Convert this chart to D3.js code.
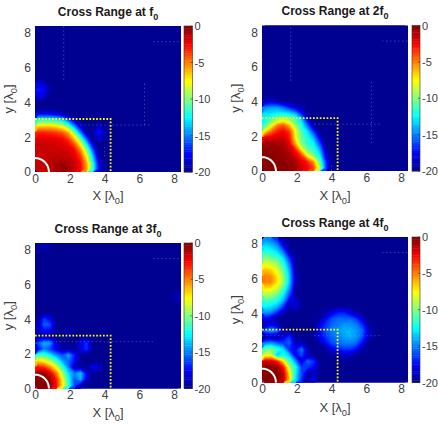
<!DOCTYPE html>
<html><head><meta charset="utf-8">
<script src="https://cdn.jsdelivr.net/npm/d3@7"></script>
<style>html,body{margin:0;padding:0;background:#fff}svg{display:block}text{font-family:"Liberation Sans",Arial,sans-serif}</style>
</head><body>
<svg id="c" width="438" height="426"></svg>
<script>
// Heat values in dB on a 0.35 lambda grid. Each row is one y (bottom first), from x = 0 rightwards.
// Cells left out of a row, and rows left out altogether, sit at the floor of that panel.
const titleHarmonics = ["f", "2f", "3f", "4f"];
const floors = [-20, -20, -19.7, -19.7];
const xTicks = [0, 2, 4, 6, 8];
const dbTicks = [0, -5, -10, -15, -20];
const boxCorner = [4.35, 3.05];
const arcRadius = 0.8;

const f1Rows = [
 [-1.3,-1.3,-1,-0.8,-0.3,-0.6,-1.3,-2.5,-5.5,-11.5,-17.5,-20],
 [-1.3,-1.3,-1,-0.9,-0.5,-0.9,-1.5,-2.7,-6,-12,-18,-20],
 [-1.3,-1.3,-1.3,-1.2,-1.2,-1.4,-1.9,-3.5,-7.5,-13.5,-19.2,-20],
 [-1.4,-1.4,-1.4,-1.4,-1.5,-1.7,-2.4,-5,-9.5,-15.5,-20],
 [-1.5,-1.5,-1.5,-1.6,-1.8,-2.4,-4,-7.5,-12.5,-18,-20],
 [-1.9,-1.9,-2,-2.2,-2.5,-3.8,-6.5,-11,-16,-19.8,-18.5,-19.5],
 [-3,-3.1,-3.3,-3.6,-4.2,-6,-10,-15,-19.5,-19.5,-17,-19],
 [-6.5,-6.5,-6.5,-7,-8,-10.5,-14.5,-18.5,-20,-20,-18.5,-20],
 [-11.5,-11.5,-11.5,-12,-13,-15.5,-18.5,-20],
 [-17.5,-17.5,-17.5,-18,-18.8,-20],
 [],
 [-19.5,-20],
 [-18,-18.5,-19.8],
 [-17,-17.5,-19.5],
 [-18,-18.5,-19.8],
 [-19.8]
];
const f2Rows = [
 [-0.3,-0.3,-0.3,-0.3,-0.3,-0.5,-1.5,-2.5,-3.8,-9,-16,-20],
 [-0.3,-0.3,-0.3,-0.3,-0.4,-0.8,-2,-3,-5.5,-10.5,-16.5,-20],
 [-0.3,-0.3,-0.3,-0.4,-0.8,-1.8,-3.5,-7.5,-10,-12.5,-18,-20],
 [-0.3,-0.3,-0.4,-0.6,-1.2,-3,-7,-10.5,-11.5,-14,-19,-20],
 [-0.6,-0.6,-0.7,-0.9,-2,-6,-10,-11.5,-12.5,-16,-20],
 [-2,-1.8,-1.6,-1.5,-2.8,-7.5,-10.5,-12,-14,-18,-20],
 [-7,-4.5,-3,-2.3,-3.5,-7.5,-11,-13,-16.5,-20],
 [-11,-8,-5,-4,-6,-9.5,-12,-15.5,-19.5,-20],
 [-12.5,-11,-9.5,-8.5,-9.5,-11,-13.5,-18,-20],
 [-13,-13,-12.5,-12.5,-13,-14,-17,-20],
 [-15,-14.5,-14.5,-15.5,-17,-18.5,-19,-20],
 [-19,-18.5,-19,-20]
];
const f3Rows = [
 [0,0,-0.4,-2.5,-7,-11.5,-16,-19,-20],
 [0,0,-0.6,-3,-7.5,-12,-16,-14,-18.5,-20],
 [-0.2,-0.4,-1.8,-4.8,-9,-13,-15,-13.5,-18,-20],
 [-2.8,-3.2,-5.2,-8,-11.5,-15,-19,-19.5,-20,-17.5,-18.5],
 [-6.5,-7.5,-9,-11,-14,-15.5,-17.5,-20],
 [-11,-11,-12.5,-14.5,-16,-14,-17,-20],
 [-18,-15,-16.5,-18,-19.5,-19.5,-20,-18,-16.5,-20],
 [-16,-14,-14.5,-18.5,-20,-20,-20,-18,-16.5,-20],
 [-19.5,-19,-19.5,-20],
 [-19,-17.5,-18,-20,-20,-18.5,-20],
 [-19,-15.5,-16,-20],
 [-20,-16.5,-18,-20],
 [],
 [],
 [-20,-20,-20,-20,-20,-20,-20,-20,-20,-20,-20,-20,-20,-20,-20,-20,-20,-20,-20,-20,-20,-20,-20,-19],
 [-20,-20,-20,-20,-20,-20,-20,-20,-20,-20,-20,-20,-20,-20,-20,-20,-20,-20,-20,-20,-20,-20,-20,-19],
 [],[],[],[],[],[],[],
 [-19.4,-19,-19.4,-20]
];
const f4Rows = [
 [0,0,0,-1.2,-6.5,-13,-16.5,-19.5,-17.5,-20],
 [0,0,-0.1,-1.5,-7,-12.5,-16,-19.5,-19,-20],
 [0,-0.1,-0.4,-2.8,-9,-12,-16.5,-16.5,-17.5,-20],
 [-1.5,-1.8,-3,-7,-11,-14.5,-18.5,-15.5,-16.5,-20],
 [-8,-8,-13.5,-12,-13.5,-18,-16,-19,-20,-20,-20,-20,-19.5,-18.8,-19,-20],
 [-10.5,-10,-11.5,-13,-17,-17.5,-15,-19,-20,-20,-19.5,-18,-17,-16.5,-16.5,-17.5,-19.5,-20],
 [-15,-14.5,-15.5,-16.5,-15.5,-19,-19,-20,-20,-19.5,-17.5,-16,-15.5,-15,-15,-15.5,-17.5,-19.8],
 [-19.5,-19.5,-19.5,-18,-16.5,-20,-20,-20,-19.8,-18,-16.5,-15.5,-15,-14.5,-14,-14.5,-16,-19],
 [-15.5,-14.5,-15.5,-19.5,-20,-20,-20,-20,-20,-17.5,-16,-15,-14.5,-14,-14,-14.5,-15.5,-18.5],
 [-19,-17.5,-18.5,-20,-20,-20,-20,-20,-20,-18,-16.5,-15.5,-15,-14.5,-14.5,-15,-16.5,-19.5],
 [-17.5,-18.5,-20,-20,-20,-20,-20,-20,-20,-19.5,-17.5,-16,-15.5,-15.5,-15.5,-16.5,-18.5,-20],
 [-14.5,-15,-17,-19,-20,-20,-20,-20,-20,-20,-19.5,-18,-17,-17,-18,-19.5,-20],
 [-12.5,-13,-14,-16.5,-19.5,-18,-20],
 [-11,-11.3,-12,-14,-18,-18.5,-20],
 [-9,-9.3,-10.3,-12.5,-16,-20],
 [-7,-7.3,-8.5,-11,-14.5,-19.5],
 [-5,-5.3,-7,-9.5,-13.5,-19],
 [-5,-5.3,-7,-9.5,-13.5,-19],
 [-6.2,-6.6,-8,-10.5,-14,-19.5],
 [-8,-8.3,-9.5,-11.5,-15,-20],
 [-9.8,-10.3,-11,-13,-16.5,-20],
 [-11.5,-12,-13,-15,-19,-20],
 [-13,-13.5,-14.5,-17.5,-20],
 [-14.5,-15,-16.5,-19.5]
];
// Faint dotted traces: [x0, y0, x1, y1] in lambda
const f1Traces = [[1.65,5.3,1.65,8.4],[2.6,2.7,6.7,2.7],[6.3,2.7,6.3,5.2],[6.8,7.5,8.4,7.5],[4,0.9,4,1.6]];
const f2Traces = [[1.65,5.2,1.65,8.4],[3,2.7,6.9,2.7],[6.3,1.6,6.3,5.2],[6.9,7.5,8.4,7.5],[4,0,4,0.4]];
const f3Traces = [[0.5,2.7,6.9,2.7],[6.8,7.5,8.3,7.5]];
const f4Traces = [[0,2.7,1.2,2.7],[3,2.7,6.9,2.7],[6.9,7.5,8.4,7.5]];

const allRows = [f1Rows, f2Rows, f3Rows, f4Rows];
const allTraces = [f1Traces, f2Traces, f3Traces, f4Traces];
// Layout: plot box, title baseline, x label baseline
const panels = [
 {l:35, r:181, t:26, b:172, cl:184, cr:192.5, title:16, xlab:200},
 {l:262, r:408, t:25.5, b:171, cl:412, cr:420, title:15, xlab:200},
 {l:35, r:181, t:243, b:388.5, cl:184, cr:192.5, title:233, xlab:417},
 {l:262, r:408, t:237, b:382.5, cl:412, cr:420, title:227, xlab:412}
];

const GRID = 24, CELL = 0.35, AXMAX = 8.4, LEVELS = 64;
const textCol = "#404040";
const jet = d3.scaleLinear()
  .domain([0, 0.125, 0.375, 0.625, 0.875, 1])
  .range(["#00008a", "#0000ff", "#00ffff", "#ffff00", "#ff0000", "#800000"])
  .clamp(true);
const svg = d3.select("#c");

function label(g, x, y, base, rotate, size) {
  const t = g.append("text").attr("fill", textCol).attr("font-size", size).attr("text-anchor", "middle");
  if (rotate) t.attr("transform", `translate(${x},${y}) rotate(-90)`);
  else t.attr("x", x).attr("y", y);
  t.append("tspan").text(base + " [\u03bb");
  t.append("tspan").attr("font-size", size * 0.72).attr("dy", 4).text("0");
  t.append("tspan").attr("dy", -4).text("]");
}

panels.forEach((p, idx) => {
  const g = svg.append("g");
  const x = d3.scaleLinear().domain([0, AXMAX]).range([p.l, p.r]);
  const y = d3.scaleLinear().domain([0, AXMAX]).range([p.b, p.t]);
  const floor = floors[idx];
  const values = [];
  for (let j = 0; j < GRID; j++) {
    const row = allRows[idx][j] || [];
    for (let i = 0; i < GRID; i++) values.push(Math.max(row[i] === undefined ? floor : row[i], floor));
  }
  const levelOf = d3.scaleLinear().domain([0, LEVELS]).range([-20, 0]);
  const thresholds = d3.range(LEVELS).map(k => levelOf(k));
  const contours = d3.contours().size([GRID, GRID]).thresholds(thresholds)(values);
  const path = d3.geoPath(d3.geoTransform({
    point(a, b) { this.stream.point(x(a * CELL), y(b * CELL)); }
  }));
  g.append("rect").attr("x", p.l).attr("y", p.t).attr("width", p.r - p.l).attr("height", p.b - p.t)
    .attr("fill", jet(Math.max(0, (floor + 20) / 20)));
  g.selectAll("path.c").data(contours).join("path").attr("class", "c")
    .attr("d", path)
    .attr("fill", (d, k) => jet((k + 0.5) / LEVELS));

  // faint traces
  g.selectAll("line.tr").data(allTraces[idx]).join("line").attr("class", "tr")
    .attr("x1", d => x(d[0])).attr("y1", d => y(d[1]))
    .attr("x2", d => x(d[2])).attr("y2", d => y(d[3]))
    .attr("stroke", "#8fa8e8").attr("stroke-opacity", 0.45).attr("stroke-width", 0.8)
    .attr("stroke-dasharray", "1.5 2.5");

  // yellow region box
  g.append("path")
    .attr("d", d3.line().x(d => x(d[0])).y(d => y(d[1]))([[0, boxCorner[1]], boxCorner, [boxCorner[0], 0]]))
    .attr("fill", "none").attr("stroke", "#ffff00").attr("stroke-width", 1.8).attr("stroke-dasharray", "1.7 1.7");

  // white arc
  const arcPts = d3.range(0, 91, 5).map(a => [arcRadius * Math.cos(a * Math.PI / 180), arcRadius * Math.sin(a * Math.PI / 180)]);
  g.append("path").attr("d", d3.line().x(d => x(d[0])).y(d => y(d[1]))(arcPts))
    .attr("fill", "none").attr("stroke", "#fff").attr("stroke-width", 2);

  // axes
  const ax = g.append("g").attr("transform", `translate(0,${p.b})`).call(d3.axisBottom(x).tickValues(xTicks).tickSize(0).tickPadding(2));
  const ay = g.append("g").attr("transform", `translate(${p.l},0)`).call(d3.axisLeft(y).tickValues(xTicks).tickSize(0).tickPadding(4));
  [ax, ay].forEach(a => {
    a.select(".domain").remove();
    a.selectAll("text").attr("fill", textCol).attr("font-size", 12).attr("font-family", '"Liberation Sans",Arial,sans-serif');
  });

  // colour bar
  const cy = d3.scaleLinear().domain([-20, 0]).range([p.b, p.t]);
  g.selectAll("rect.cb").data(thresholds).join("rect").attr("class", "cb")
    .attr("x", p.cl).attr("width", p.cr - p.cl)
    .attr("y", d => cy(d + 20 / LEVELS)).attr("height", d => cy(d) - cy(d + 20 / LEVELS) + 0.4)
    .attr("fill", (d, k) => jet((k + 0.5) / LEVELS));
  g.append("rect").attr("x", p.cl).attr("y", p.t).attr("width", p.cr - p.cl).attr("height", p.b - p.t)
    .attr("fill", "none").attr("stroke", "#333").attr("stroke-width", 0.6);
  const ac = g.append("g").attr("transform", `translate(${p.cr},0)`).call(d3.axisRight(cy).tickValues(dbTicks).tickSize(0).tickPadding(2).tickFormat(d => String(d)));
  ac.select(".domain").remove();
  ac.selectAll("text").attr("fill", textCol).attr("font-size", 11).attr("font-family", '"Liberation Sans",Arial,sans-serif');
  g.selectAll("line.ct").data(dbTicks).join("line").attr("class", "ct")
    .attr("x1", p.cr - 2).attr("x2", p.cr).attr("y1", d => cy(d)).attr("y2", d => cy(d)).attr("stroke", "#333").attr("stroke-width", 0.6);

  // title
  const cx = (p.l + p.r) / 2;
  const t = g.append("text").attr("x", cx).attr("y", p.title).attr("text-anchor", "middle")
    .attr("font-size", 12).attr("font-weight", "bold").attr("fill", "#1a1a1a");
  t.append("tspan").text("Cross Range at " + titleHarmonics[idx]);
  t.append("tspan").attr("dy", 4).attr("font-size", 9).text("0");

  label(g, cx, p.xlab, "X", false, 13);
  label(g, 13 + (p.l - 35), (p.t + p.b) / 2, "y", true, 13);
});
</script>
</body></html>
